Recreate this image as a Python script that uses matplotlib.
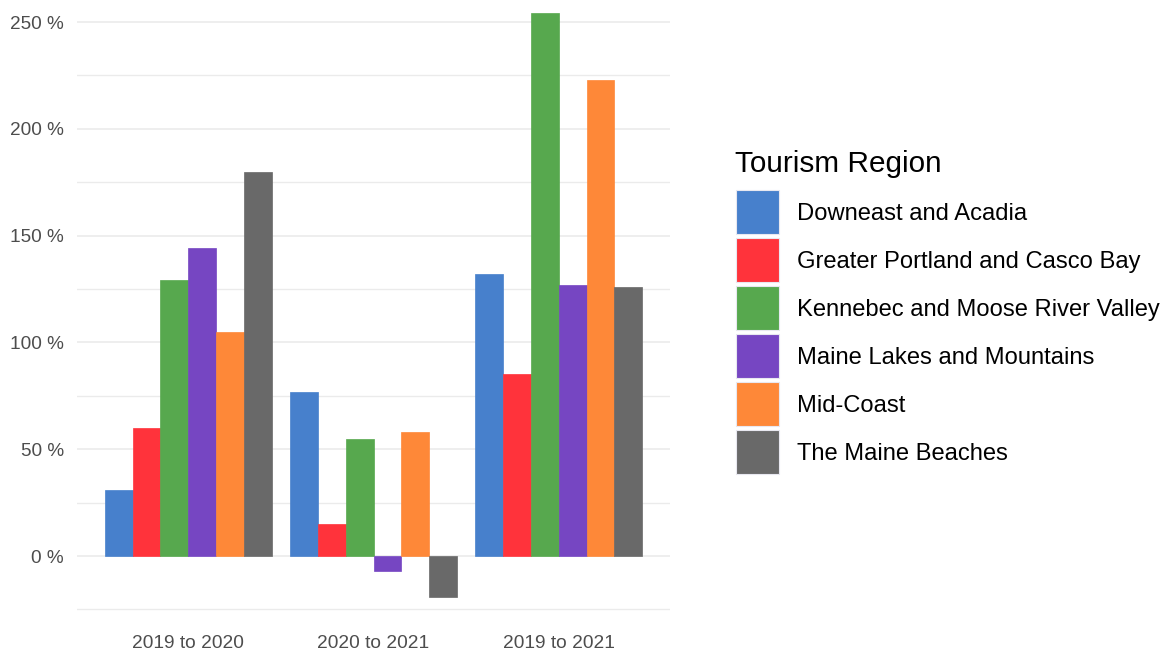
import matplotlib
matplotlib.use("Agg")
import matplotlib.pyplot as plt
from matplotlib.patches import Rectangle
import numpy as np

periods = ["2019 to 2020", "2020 to 2021", "2019 to 2021"]
regions = ["Downeast and Acadia", "Greater Portland and Casco Bay",
           "Kennebec and Moose River Valley", "Maine Lakes and Mountains",
           "Mid-Coast", "The Maine Beaches"]
downeast = [31, 77, 132]
portland = [60, 15, 85]
kennebec = [129, 55, 254]
lakes = [144, -7, 127]
midcoast = [105, 58, 223]
beaches = [180, -19, 126]
series = [downeast, portland, kennebec, lakes, midcoast, beaches]
colors = ["#4780CC", "#FF333B", "#57A84E", "#7646C2", "#FE8838", "#696969"]
yticks = [0, 50, 100, 150, 200, 250]
minor_ticks = [-25, 25, 75, 125, 175, 225]

plt.rcParams['font.family'] = ['Liberation Sans', 'DejaVu Sans']

W, H = 1168, 651
fig = plt.figure(figsize=(W / 100, H / 100), dpi=100)
ax = fig.add_axes([77 / W, 26 / H, 593 / W, 625 / H])

x = np.arange(1, len(periods) + 1)
n = len(series)
total = 0.9
bw = total / n
for i, (vals, c) in enumerate(zip(series, colors)):
    ax.bar(x - total / 2 + bw * (i + 0.5), vals, width=bw, color=c,
           edgecolor=c, linewidth=0.5, zorder=3)

ax.set_xlim(0.4, 3.6)
ax.set_ylim(-32.3, 260.3)
ax.set_yticks(yticks)
ax.set_yticklabels([f"{v} %" for v in yticks])
ax.set_yticks(minor_ticks, minor=True)
ax.set_xticks(x)
ax.set_xticklabels(periods)
ax.grid(axis='y', which='major', color='#EBEBEB', linewidth=1.2, zorder=0)
ax.grid(axis='y', which='minor', color='#EBEBEB', linewidth=1.0, zorder=0)
ax.tick_params(axis='both', which='both', length=0)
ax.tick_params(axis='y', labelsize=13.7, labelcolor='#4D4D4D', pad=9.5)
ax.tick_params(axis='x', labelsize=13.8, labelcolor='#4D4D4D', pad=7.5)
for s in ax.spines.values():
    s.set_visible(False)

# legend
fig.text(735 / W, 1 - 164 / H, "Tourism Region", fontsize=21.4, color='black',
         ha='left', va='center')
for i, (name, c) in enumerate(zip(regions, colors)):
    top = 190 + 48 * i
    fig.add_artist(Rectangle((736 / W, 1 - (top + 44) / H), 43 / W, 44 / H,
                             transform=fig.transFigure, facecolor=c,
                             edgecolor='#E8E8F0', linewidth=0.8))
    fig.text(797 / W, 1 - (top + 24) / H, name, fontsize=17.1, color='black',
             ha='left', va='center')

fig.savefig("out.png", dpi=100)
